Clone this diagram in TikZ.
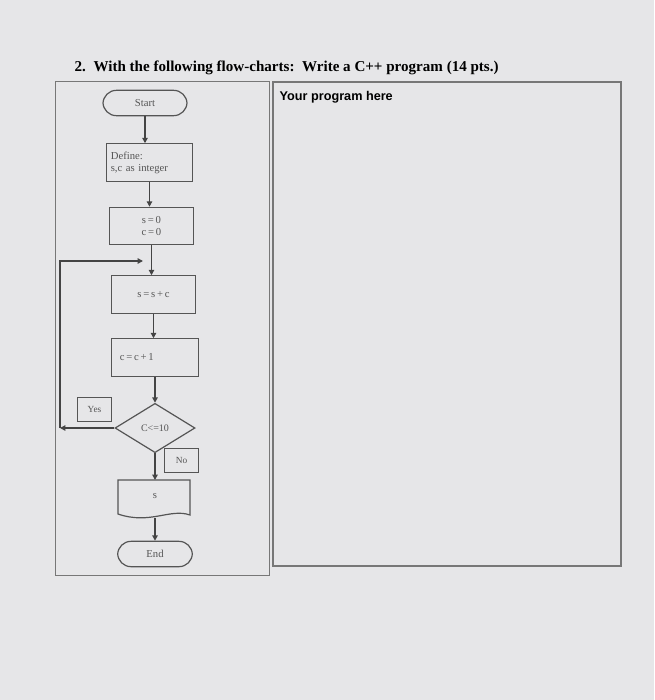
\documentclass[tikz,border=0pt]{standalone}
\usepackage{fontspec}
\setmainfont{Liberation Serif}
\newfontfamily\hv{Liberation Sans}
\usetikzlibrary{shapes.geometric,arrows.meta}
\definecolor{paper}{HTML}{E6E6E8}
\definecolor{ink}{HTML}{555555}
\begin{document}
\begin{tikzpicture}[x=0.75pt,y=-0.75pt,
  box/.style={draw=ink,line width=0.9pt,fill=paper,minimum width=63pt,minimum height=28pt,font=\fontsize{8}{9}\selectfont,text=ink},
  term/.style={box,rounded corners=10pt,minimum height=19pt},
  lab/.style={draw=ink,line width=0.7pt,minimum width=26pt,minimum height=18pt,font=\fontsize{7}{8}\selectfont,text=ink},
  conn/.style={draw=ink!80!black,line width=1pt,-{Triangle[length=4pt,width=4pt]}}]
\fill[paper] (0,0) rectangle (654,700);
\useasboundingbox (0,0) rectangle (654,700);
\node[font=\bfseries\fontsize{11.3}{13}\selectfont,anchor=west] (title) at (70,68) {2.\ \ With the following flow-charts:\ \ Write a C++ program (14 pts.)};
\node[draw=ink!80,line width=0.9pt,minimum width=161pt,minimum height=370pt,inner sep=0] (left) at (162.5,328.5) {};
\node[draw=ink!80,line width=0.9pt,minimum width=261pt,minimum height=363pt,inner sep=0] (right) at (447,324) {};
\node[font=\hv\bfseries\fontsize{9.5}{10}\selectfont,anchor=west] (yp) at (275,97) {Your program here};
\node[term,minimum width=63pt] (start) at (145,103) {Start};
\node[box,align=left,text width=58pt] (def) at (149.5,162.5) {Define:\\s,c as integer};
\node[box,align=center] (init) at (151.5,226) {s\,=\,0\\c\,=\,0};
\node[box] (ss) at (153.5,294.5) {s\,=\,s\,+\,c};
\node[box,align=left,text width=58pt] (cc) at (155,357.5) {\ c\,=\,c\,+\,1};
\node[diamond,draw=ink,line width=0.9pt,fill=paper,minimum width=60pt,minimum height=37pt,inner sep=0,font=\fontsize{7.5}{8}\selectfont,text=ink,aspect=1.6] (dec) at (155,428) {C<=10};
\node[lab] (yes) at (94.5,409.5) {Yes};
\node[lab] (no) at (181.5,460) {No};
\draw[draw=ink,line width=0.9pt,fill=paper] (118,480) coordinate (dtl) -- (190,480) -- (190,515) .. controls (170,508) and (150,525) .. (118,514) -- cycle;
\node[font=\fontsize{8}{9}\selectfont,text=ink] (out) at (155,496) {s};
\coordinate (dtop) at (155,480);
\coordinate (dbot) at (155,518);
\node[term,minimum width=56pt] (end) at (155,554) {End};
\coordinate (lb) at (60,428);
\coordinate (lt) at (60,261);
\coordinate (jt) at (143,261);
\draw[conn] (start) -- (start |- def.north);
\draw[conn] (def.south) -- (def.south |- init.north);
\draw[conn] (init.south) -- (init.south |- ss.north);
\draw[conn] (ss.south) -- (ss.south |- cc.north);
\draw[conn] (cc.south) -- (cc.south |- dec.north);
\draw[conn] (dec.west) -- (lb);
\draw[conn] (lb) -- (lt) -- (jt);
\draw[conn] (dec.south) -- (dtop);
\draw[conn] (dbot) -- (end.north);
\end{tikzpicture}
\end{document}
